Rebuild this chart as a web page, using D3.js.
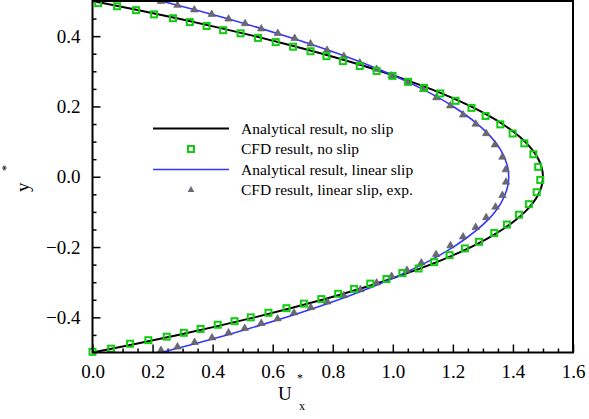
<!DOCTYPE html>
<html><head><meta charset="utf-8">
<script src="https://cdn.jsdelivr.net/npm/d3@7"></script>
<style>body{margin:0;background:#fff}svg{display:block}svg text{font-family:"Liberation Serif","Times New Roman",serif !important}</style>
</head><body><svg id="c" width="589" height="419"></svg>
<script>
// Analytical profiles (y*, U*)
const anaY = [-0.5,-0.475,-0.45,-0.425,-0.4,-0.375,-0.35,-0.325,-0.3,-0.275,-0.25,-0.225,-0.2,-0.175,-0.15,-0.125,-0.1,-0.075,-0.05,-0.025,0,0.025,0.05,0.075,0.1,0.125,0.15,0.175,0.2,0.225,0.25,0.275,0.3,0.325,0.35,0.375,0.4,0.425,0.45,0.475,0.5];
const anaNoSlipU = [0,0.146,0.285,0.416,0.54,0.656,0.765,0.866,0.96,1.046,1.125,1.196,1.26,1.316,1.365,1.406,1.44,1.466,1.485,1.496,1.5,1.496,1.485,1.466,1.44,1.406,1.365,1.316,1.26,1.196,1.125,1.046,0.96,0.866,0.765,0.656,0.54,0.416,0.285,0.146,0];
const anaSlipU = [0.228,0.341,0.448,0.549,0.645,0.735,0.819,0.897,0.969,1.036,1.097,1.152,1.201,1.244,1.282,1.314,1.340,1.360,1.374,1.383,1.386,1.383,1.374,1.360,1.340,1.314,1.282,1.244,1.201,1.152,1.097,1.036,0.969,0.897,0.819,0.735,0.645,0.549,0.448,0.341,0.228];
// CFD, no slip
const cfdNoSlipY = [0.494,0.485,0.474,0.462,0.451,0.440,0.429,0.417,0.408,0.395,0.383,0.370,0.357,0.343,0.329,0.315,0.301,0.287,0.270,0.253,0.237,0.216,0.196,0.173,0.149,0.123,0.095,0.064,0.028,-0.009,-0.044,-0.078,-0.108,-0.136,-0.160,-0.185,-0.204,-0.223,-0.243,-0.261,-0.274,-0.291,-0.304,-0.319,-0.333,-0.348,-0.361,-0.374,-0.387,-0.400,-0.411,-0.421,-0.433,-0.444,-0.455,-0.465,-0.475,-0.489,-0.498];
const cfdNoSlipU = [0.019,0.082,0.145,0.205,0.268,0.324,0.380,0.435,0.493,0.551,0.610,0.668,0.726,0.779,0.834,0.890,0.946,0.999,1.051,1.104,1.158,1.209,1.262,1.309,1.358,1.399,1.438,1.468,1.484,1.491,1.479,1.453,1.420,1.380,1.338,1.287,1.240,1.189,1.138,1.086,1.032,0.979,0.925,0.871,0.818,0.762,0.704,0.646,0.586,0.527,0.473,0.417,0.360,0.304,0.247,0.186,0.125,0.062,0.0];
// CFD, linear slip
const cfdSlipY = [0.499,0.488,0.475,0.462,0.449,0.436,0.421,0.408,0.394,0.378,0.360,0.343,0.324,0.306,0.287,0.269,0.249,0.225,0.202,0.176,0.150,0.123,0.091,0.056,0.020,-0.015,-0.053,-0.086,-0.116,-0.144,-0.171,-0.196,-0.221,-0.245,-0.266,-0.283,-0.302,-0.321,-0.338,-0.356,-0.372,-0.387,-0.404,-0.417,-0.431,-0.444,-0.458,-0.471,-0.484,-0.494];
const cfdSlipU = [0.228,0.283,0.339,0.397,0.453,0.508,0.562,0.617,0.673,0.726,0.781,0.837,0.890,0.946,0.996,1.050,1.101,1.145,1.191,1.234,1.276,1.311,1.340,1.365,1.376,1.377,1.365,1.342,1.311,1.276,1.234,1.192,1.144,1.095,1.047,0.996,0.946,0.892,0.837,0.782,0.727,0.671,0.616,0.562,0.507,0.453,0.398,0.340,0.283,0.228];
const xTicks = [0,0.2,0.4,0.6,0.8,1.0,1.2,1.4,1.6];
const yTicks = [-0.4,-0.2,0,0.2,0.4];
const legendLabels = ["Analytical result, no slip","CFD result, no slip","Analytical result, linear slip","CFD result, linear slip, exp."];

const FONT = '"Liberation Serif","Times New Roman",serif';
const svg = d3.select("#c");
const L=92.5, R=573, T=1, B=352.5;
const x = d3.scaleLinear().domain([0,1.6]).range([L,R]);
const y = d3.scaleLinear().domain([-0.5,0.5]).range([B,T]);

const xMinor = d3.range(0,33).map(i=>i*0.05).filter(v=>Math.abs(v*5-Math.round(v*5))>1e-6);
const yMinor = d3.range(-10,11).map(i=>i*0.05).filter(v=>Math.abs(v*5-Math.round(v*5))>1e-6 && Math.abs(v)<0.499);

const gx = svg.append("g").attr("transform",`translate(0,${B})`);
gx.call(d3.axisBottom(x).tickValues(xTicks).tickSize(-8).tickPadding(12).tickFormat(d3.format(".1f")));
const gxm = svg.append("g").attr("transform",`translate(0,${B})`);
gxm.call(d3.axisBottom(x).tickValues(xMinor).tickSize(-4).tickFormat(""));
const gy = svg.append("g").attr("transform",`translate(${L},0)`);
gy.call(d3.axisLeft(y).tickValues(yTicks).tickSize(-8).tickPadding(14).tickFormat(d3.format(".1f")));
const gym = svg.append("g").attr("transform",`translate(${L},0)`);
gym.call(d3.axisLeft(y).tickValues(yMinor).tickSize(-4).tickFormat(""));
[gx,gxm,gy,gym].forEach(g=>{g.attr("font-family",FONT);g.select(".domain").remove();g.selectAll("line").attr("stroke","#000").attr("stroke-width",1.5);});
svg.selectAll(".tick text").attr("font-size",19).attr("fill","#000").style("font-family",FONT);
gy.selectAll(".tick text").attr("text-anchor","end").attr("dx","0.1em");

svg.append("clipPath").attr("id","pc").append("rect").attr("x",L-6).attr("y",T-6).attr("width",R-L+12).attr("height",B-T+12);
const plot = svg.append("g").attr("clip-path","url(#pc)");

const lineGen = (U)=>d3.line().x((d,i)=>x(U[i])).y(d=>y(d)).curve(d3.curveMonotoneY);
plot.append("path").attr("d",lineGen(anaNoSlipU)(anaY)).attr("fill","none").attr("stroke","#000").attr("stroke-width",2);
plot.append("path").attr("d",lineGen(anaSlipU)(anaY)).attr("fill","none").attr("stroke","#3535ff").attr("stroke-width",1.6);

const tri = d3.symbol().type(d3.symbolTriangle).size(24);
plot.selectAll(".tri").data(cfdSlipY).join("path").attr("class","tri")
  .attr("transform",(d,i)=>`translate(${x(cfdSlipU[i])},${y(d)})`).attr("d",tri())
  .attr("fill","#6a6a76").attr("stroke","#55555f").attr("stroke-width",0.6);
plot.selectAll(".sq").data(cfdNoSlipY).join("rect").attr("class","sq")
  .attr("x",(d,i)=>x(cfdNoSlipU[i])-3).attr("y",d=>y(d)-3).attr("width",6).attr("height",6)
  .attr("fill","none").attr("stroke","#11cc11").attr("stroke-width",2);

svg.append("rect").attr("x",L).attr("y",T).attr("width",R-L).attr("height",B-T).attr("fill","none").attr("stroke","#000").attr("stroke-width",2);

const lg = svg.append("g");
const rows=[128.5,149,169.5,190];
lg.append("line").attr("x1",153).attr("x2",229).attr("y1",rows[0]).attr("y2",rows[0]).attr("stroke","#000").attr("stroke-width",2);
lg.append("rect").attr("x",188).attr("y",rows[1]-3).attr("width",6).attr("height",6).attr("fill","none").attr("stroke","#11cc11").attr("stroke-width",2);
lg.append("line").attr("x1",153).attr("x2",229).attr("y1",rows[2]).attr("y2",rows[2]).attr("stroke","#3535ff").attr("stroke-width",1.6);
lg.append("path").attr("transform",`translate(191,${rows[3]})`).attr("d",d3.symbol().type(d3.symbolTriangle).size(20)()).attr("fill","#6a6a76");
lg.selectAll("text").data(legendLabels).join("text").attr("x",241).attr("y",(d,i)=>rows[i]+5).attr("font-size",15.5).attr("fill","#000").style("font-family",FONT).text(d=>d);

svg.append("text").attr("x",278).attr("y",400).attr("font-size",19).attr("fill","#000").style("font-family",FONT).text("U");
svg.append("text").attr("x",297).attr("y",382).attr("font-size",12).attr("fill","#000").style("font-family",FONT).text("*");
svg.append("text").attr("x",299).attr("y",410).attr("font-size",12).attr("fill","#000").style("font-family",FONT).text("x");
const yt = svg.append("g").attr("transform","translate(29,192) rotate(-90)");
yt.append("text").attr("x",0).attr("y",0).attr("font-size",19).attr("fill","#000").style("font-family",FONT).text("y");
yt.append("text").attr("x",21).attr("y",-19).attr("font-size",12).attr("fill","#000").style("font-family",FONT).text("*");
</script></body></html>
